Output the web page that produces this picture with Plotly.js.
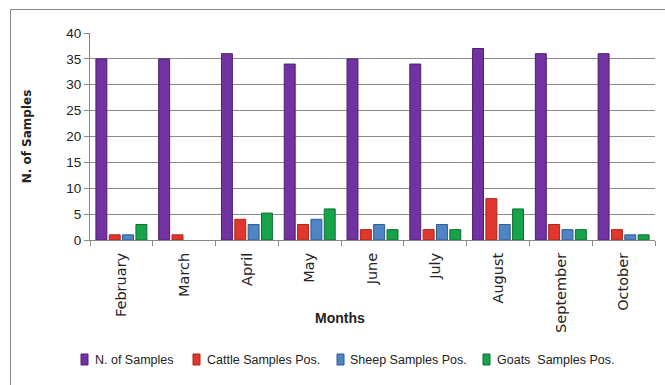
<!DOCTYPE html>
<html>
<head>
<meta charset="utf-8">
<script src="https://cdn.plot.ly/plotly-3.0.1.min.js"></script>
<style>html,body{margin:0;padding:0;background:#fff;}#chart{width:665px;height:385px;}</style>
</head>
<body>
<div id="chart"></div>
<script>
const months = ["February","March","April","May","June","July","August","September","October"];
const nSamples = [35,35,36,34,35,34,37,36,36];
const cattlePos = [1,1,4,3,2,2,8,3,2];
const sheepPos = [1,0,3,4,3,3,3,2,1];
const goatsPos = [3,0,5.2,6,2,2,6,2,1];
const seriesNames = ["N. of Samples","Cattle Samples Pos.","Sheep Samples Pos.","Goats  Samples Pos."];
const colors = ["#7232a2","#e2372c","#4f85c4","#16a34a"];
const lines = ["#4e1f72","#a8241b","#30598c","#0d6e30"];

const font = "Liberation Sans, Arial, sans-serif";
// plot area in pixels
const PL = 90, PR = 655, PT = 33, PB = 240;
const px2x = p => (p - PL) / (PR - PL);
const px2y = p => (PB - p) / (PB - PT);

const data = [nSamples, cattlePos, sheepPos, goatsPos].map((vals, i) => ({
  type: "bar",
  x: months,
  y: vals,
  name: seriesNames[i],
  marker: {color: colors[i], line: {color: lines[i], width: vals.map(v => v > 0 ? 1 : 0)}},
  hoverinfo: "none",
  showlegend: false
}));

// manual legend placement (symbol left edge px, text left px)
const legSym = [81, 193, 337, 483];
const legTxt = [93, 205, 348, 495];
const legY = 359.5;

const shapes = [{
  type: "rect", xref: "paper", yref: "paper",
  x0: px2x(10.5), x1: 1.2, y0: -1, y1: px2y(9.5),
  line: {color: "#8a8a8a", width: 1}, fillcolor: "rgba(0,0,0,0)", layer: "below"
}];
const annotations = [{
  text: "<b>Months</b>", xref: "paper", yref: "paper",
  x: px2x(340), y: px2y(318), xanchor: "center", yanchor: "middle",
  showarrow: false, font: {family: font, size: 14, color: "#222"}
}];
seriesNames.forEach((nm, i) => {
  shapes.push({
    type: "rect", xref: "paper", yref: "paper",
    x0: px2x(legSym[i]), x1: px2x(legSym[i] + 7), y0: px2y(legY + 5.5), y1: px2y(legY - 5.5),
    fillcolor: colors[i], line: {color: lines[i], width: 1}
  });
  annotations.push({
    text: nm.replace(/  /g, "&nbsp; "), xref: "paper", yref: "paper",
    x: px2x(legTxt[i]), y: px2y(legY), xanchor: "left", yanchor: "middle",
    showarrow: false, font: {family: font, size: 12.5, color: "#222"}
  });
});

const layout = {
  width: 665, height: 385,
  margin: {l: PL, r: 665 - PR, t: PT, b: 385 - PB},
  paper_bgcolor: "#ffffff", plot_bgcolor: "#ffffff",
  barmode: "group", bargap: 0.15, bargroupgap: 0.18,
  showlegend: false,
  xaxis: {
    tickangle: -90, ticks: "outside", tickson: "boundaries", ticklen: 5, tickcolor: "#888",
    showline: true, linecolor: "#888", linewidth: 1, ticklabelstandoff: 6,
    tickfont: {family: "DejaVu Sans, sans-serif", size: 14.5, color: "#222"},
    showgrid: false, fixedrange: true
  },
  yaxis: {
    range: [0, 40], dtick: 5, ticks: "outside", ticklen: 5, tickcolor: "#888",
    showline: true, linecolor: "#888", linewidth: 1,
    gridcolor: "#8c8c8c", gridwidth: 1, zeroline: false,
    tickfont: {family: font, size: 13.5, color: "#222"},
    title: {text: "<b>N. of Samples</b>", font: {family: "DejaVu Sans, sans-serif", size: 12, color: "#222"}, standoff: 32}
  },
  annotations: annotations,
  shapes: shapes
};

Plotly.newPlot("chart", data, layout, {displayModeBar: false, staticPlot: true});
</script>
</body>
</html>
